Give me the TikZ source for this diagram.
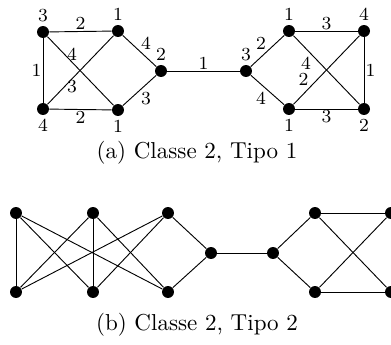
\documentclass[tikz,border=0pt]{standalone}
\usepackage{tikz}
\begin{document}
\begin{tikzpicture}[
  x=0.434pt, y=-0.434pt,
  vtx/.style={circle, fill=black, inner sep=0pt, minimum size=5.2pt},
  lbl/.style={font=\footnotesize, inner sep=0.5pt},
  every label/.style={font=\footnotesize, inner sep=1.5pt},
  label distance=0pt]
\useasboundingbox (0,0) rectangle (391,344);
% (a) Classe 2, Tipo 1
\node[vtx, label=above:3] (a1) at (43,32) {};
\node[vtx, label=above:1] (a2) at (118,31) {};
\node[vtx, label=above:2] (a3) at (161,71) {};
\node[vtx, label=below:4] (a4) at (43,109) {};
\node[vtx, label=below:1] (a5) at (118,110) {};
\node[vtx, label=above:3] (b1) at (246,71) {};
\node[vtx, label=above:1] (b2) at (289,31) {};
\node[vtx, label=above:4] (b3) at (364,31) {};
\node[vtx, label=below:1] (b4) at (289,109) {};
\node[vtx, label=below:2] (b5) at (364,109) {};
\draw (a1) -- node[lbl, above] {2} (a2);
\draw (a1) -- node[lbl, left] {1} (a4);
\draw (a4) -- node[lbl, below] {2} (a5);
\draw (a1) -- node[lbl, pos=0.37, above] {4} (a5);
\draw (a4) -- node[lbl, pos=0.37, below] {3} (a2);
\draw (a2) -- node[lbl, above right] {4} (a3);
\draw (a5) -- node[lbl, below right] {3} (a3);
\draw (a3) -- node[lbl, above] {1} (b1);
\draw (b1) -- node[lbl, above left] {2} (b2);
\draw (b1) -- node[lbl, below left] {4} (b4);
\draw (b2) -- node[lbl, above] {3} (b3);
\draw (b3) -- node[lbl, right] {1} (b5);
\draw (b4) -- node[lbl, below] {3} (b5);
\draw (b2) -- node[lbl, pos=0.29, below left] {4} (b5);
\draw (b4) -- node[lbl, pos=0.25, above left] {2} (b3);
\node (capa) at (197,153) {(a) Classe 2, Tipo 1};
% (b) Classe 2, Tipo 2
\node[vtx] (c1) at (16,213) {};
\node[vtx] (c2) at (93,213) {};
\node[vtx] (c3) at (168,213) {};
\node[vtx] (c4) at (16,292) {};
\node[vtx] (c5) at (93,292) {};
\node[vtx] (c6) at (168,292) {};
\node[vtx] (c7) at (211,253) {};
\node[vtx] (c8) at (273,253) {};
\node[vtx] (c9) at (315,213) {};
\node[vtx] (c10) at (315,292) {};
\node[vtx] (c11) at (391,213) {};
\node[vtx] (c12) at (391,292) {};
\draw (c1) -- (c4); \draw (c1) -- (c5); \draw (c1) -- (c6);
\draw (c2) -- (c4); \draw (c2) -- (c5); \draw (c2) -- (c6);
\draw (c3) -- (c4); \draw (c3) -- (c5);
\draw (c3) -- (c7); \draw (c6) -- (c7); \draw (c7) -- (c8);
\draw (c8) -- (c9); \draw (c8) -- (c10);
\draw (c9) -- (c11); \draw (c9) -- (c12);
\draw (c10) -- (c11); \draw (c10) -- (c12);
\node (capb) at (197,325) {(b) Classe 2, Tipo 2};
\end{tikzpicture}
\end{document}
